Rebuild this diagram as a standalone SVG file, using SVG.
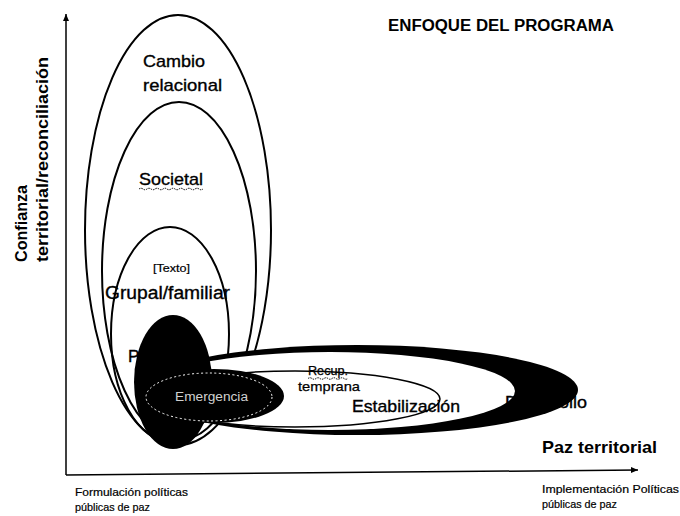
<svg xmlns="http://www.w3.org/2000/svg" width="680" height="516" viewBox="0 0 680 516">
<style>
  text { font-family: "Liberation Sans", Arial, sans-serif; fill: #000; }
  .b { font-weight: bold; }
  .lbl { font-size: 17px; stroke: #000; stroke-width: 0.35; }
  .small { font-size: 11px; stroke: #000; stroke-width: 0.2; }
  .outline { fill: none; stroke: #000; stroke-width: 2; }
  .axis { stroke: #000; stroke-width: 1.5; fill: none; }
  .wavy { fill: none; stroke: #000; stroke-width: 1; stroke-dasharray: 1.5 1; }
</style>
<defs>
  <marker id="arr" markerWidth="8" markerHeight="8" refX="7" refY="4" orient="auto" markerUnits="userSpaceOnUse">
    <path d="M0,1 L7,4 L0,7 Z" fill="#000"/>
  </marker>
</defs>
<rect width="680" height="516" fill="#fff"/>

<g id="connectors">
  <line class="axis" x1="66" y1="475" x2="66" y2="14" marker-end="url(#arr)"/>
  <line class="axis" x1="66" y1="475" x2="638" y2="470" marker-end="url(#arr)"/>
</g>

<g id="title">
  <text class="b" x="388" y="31" font-size="16" textLength="226" lengthAdjust="spacingAndGlyphs">ENFOQUE DEL PROGRAMA</text>
</g>

<g id="axis-labels">
  <text class="b" font-size="16" transform="translate(27,262) rotate(-90)" textLength="77" lengthAdjust="spacingAndGlyphs">Confianza</text>
  <text class="b" font-size="16" transform="translate(48,262) rotate(-90)" textLength="205" lengthAdjust="spacingAndGlyphs">territorial/reconciliación</text>
  <text class="b" x="542" y="453" font-size="17" textLength="115" lengthAdjust="spacingAndGlyphs">Paz territorial</text>
  <text class="small" x="75" y="496" textLength="113" lengthAdjust="spacingAndGlyphs">Formulación políticas</text>
  <text class="small" x="75" y="511" textLength="75" lengthAdjust="spacingAndGlyphs">públicas de paz</text>
  <text class="small" x="542" y="493" textLength="137" lengthAdjust="spacingAndGlyphs">Implementación Políticas</text>
  <text class="small" x="542" y="508" textLength="75" lengthAdjust="spacingAndGlyphs">públicas de paz</text>
</g>

<g id="cambio-relacional">
  <ellipse class="outline" cx="178" cy="230" rx="93" ry="215"/>
  <text class="lbl" x="143" y="67" textLength="62" lengthAdjust="spacingAndGlyphs">Cambio</text>
  <text class="lbl" x="143" y="91" textLength="79" lengthAdjust="spacingAndGlyphs">relacional</text>
</g>

<g id="societal">
  <ellipse class="outline" cx="179" cy="271" rx="77" ry="169"/>
  <text class="lbl" x="139" y="185" textLength="64" lengthAdjust="spacingAndGlyphs">Societal</text>
  <path class="wavy" d="M139,189 q2,-1.5 4,0 t4,0 t4,0 t4,0 t4,0 t4,0 t4,0 t4,0 t4,0 t4,0 t4,0 t4,0 t4,0 t4,0 t4,0 t4,0"/>
</g>

<g id="grupal-familiar">
  <ellipse class="outline" cx="170" cy="334" rx="59" ry="107"/>
  <text x="153" y="272" font-size="11" stroke="#000" stroke-width="0.2" textLength="37" lengthAdjust="spacingAndGlyphs">[Texto]</text>
  <text class="lbl" x="105" y="299" font-size="18" style="font-size:18px" textLength="125" lengthAdjust="spacingAndGlyphs">Grupal/familiar</text>
  <text class="lbl" x="128" y="362">P</text>
</g>

<g id="desarrollo">
  <ellipse cx="357" cy="390" rx="221" ry="45" fill="#000"/>
  <ellipse cx="330" cy="391" rx="185" ry="39" fill="#fff"/>
</g>

<g id="estabilizacion">
  <ellipse cx="295" cy="399" rx="145" ry="28" fill="#fff" stroke="#000" stroke-width="1.5"/>
</g>

<g id="psicosocial">
  <ellipse cx="173" cy="382" rx="39" ry="67" fill="#000"/>
</g>

<g id="emergencia">
  <ellipse cx="214" cy="396" rx="70" ry="27" fill="#000"/>
  <ellipse cx="209" cy="397" rx="63" ry="24" fill="none" stroke="#fff" stroke-width="1" stroke-dasharray="2 2.5"/>
  <text x="175" y="401" font-size="12" textLength="73" lengthAdjust="spacingAndGlyphs" style="fill:#d0d0d0">Emergencia</text>
</g>

<g id="labels-horizontal">
  <text x="308" y="375" font-size="12" stroke="#000" stroke-width="0.25" textLength="40" lengthAdjust="spacingAndGlyphs">Recup.</text>
  <path class="wavy" d="M308,378.5 q2,-1.5 4,0 t4,0 t4,0 t4,0 t4,0 t4,0 t4,0 t4,0 t4,0 t4,0"/>
  <text x="298" y="391" font-size="13" stroke="#000" stroke-width="0.25" textLength="62" lengthAdjust="spacingAndGlyphs">temprana</text>
  <text class="lbl" x="352" y="412" textLength="108" lengthAdjust="spacingAndGlyphs">Estabilización</text>
  <text class="lbl" x="505" y="408" textLength="82" lengthAdjust="spacingAndGlyphs">Desarrollo</text>
</g>
</svg>
